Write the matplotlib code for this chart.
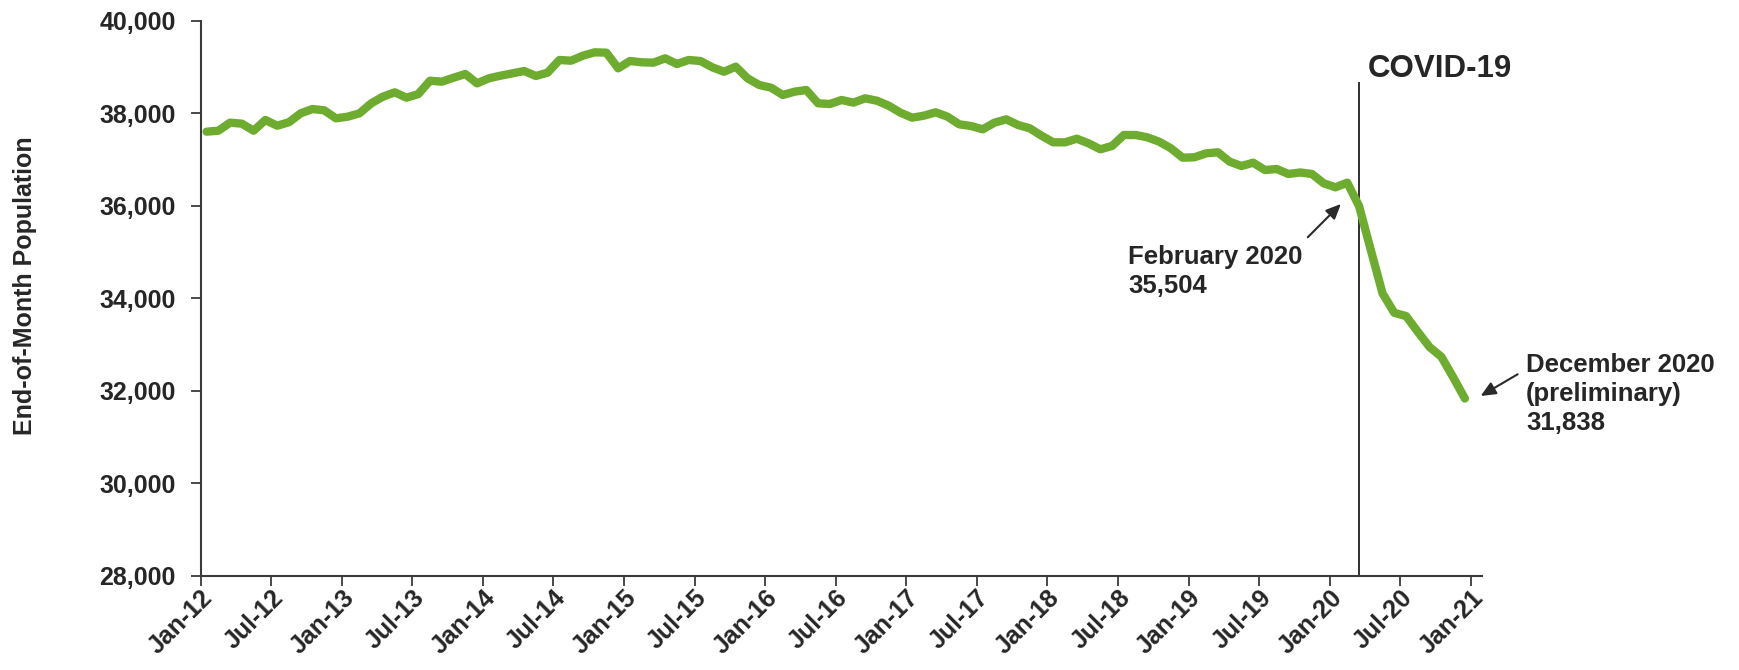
import numpy as np
import matplotlib
matplotlib.use("Agg")
import matplotlib.pyplot as plt

# ---- data ----
population = [
    37607, 37628, 37802, 37780, 37628, 37860, 37736, 37810, 38004, 38097, 38069, 37896,
    37931, 38004, 38220, 38364, 38458, 38342, 38420, 38709, 38688, 38774, 38854, 38652,
    38760, 38818, 38868, 38919, 38811, 38883, 39157, 39142, 39250, 39323, 39315, 38977,
    39135, 39107, 39099, 39193, 39070, 39157, 39135, 38999, 38904, 39012, 38761, 38616,
    38558, 38400, 38472, 38508, 38220, 38206, 38292, 38235, 38328, 38277, 38169, 38018,
    37910, 37953, 38026, 37932, 37766, 37730, 37658, 37802, 37874, 37752, 37680, 37520,
    37377, 37377, 37455, 37355, 37226, 37298, 37535, 37535, 37485, 37391, 37248, 37045,
    37053, 37139, 37161, 36958, 36865, 36936, 36778, 36800, 36692, 36725, 36692, 36490,
    36404, 36505, 36000, 35050, 34110, 33690, 33620, 33280, 32950, 32740, 32300, 31838,
]
tick_labels = ["Jan-12", "Jul-12", "Jan-13", "Jul-13", "Jan-14", "Jul-14", "Jan-15",
               "Jul-15", "Jan-16", "Jul-16", "Jan-17", "Jul-17", "Jan-18", "Jul-18",
               "Jan-19", "Jul-19", "Jan-20", "Jul-20", "Jan-21"]
y_ticks = [28000, 30000, 32000, 34000, 36000, 38000, 40000]
covid_month = 98          # March 2020 (months since Jan-12)
feb_label = "February 2020\n35,504"
dec_label = "December 2020\n(preliminary)\n31,838"
covid_label = "COVID-19"

# ---- styling ----
plt.rcParams['font.family'] = ['Liberation Sans', 'DejaVu Sans']
plt.rcParams['font.weight'] = 'bold'
TXT = '#262626'
AX = '#3a3a3a'
GREEN = '#6DAC2F'

fig = plt.figure(figsize=(17.39, 6.70), dpi=100)
W, H = 1739, 670
left_px, right_px, top_px, bot_px = 200.7, 1482.5, 21, 576
ax = fig.add_axes([left_px / W, 1 - bot_px / H, (right_px - left_px) / W, (bot_px - top_px) / H])

x = np.arange(len(population)) + 0.5
ax.plot(x, population, color=GREEN, lw=6.0, solid_joinstyle='round', solid_capstyle='round',
        clip_on=False, zorder=3)

ax.set_xlim(0, 109)
ax.set_ylim(28000, 40000)
ax.set_xticks(np.arange(len(tick_labels)) * 6)
ax.set_xticklabels(tick_labels, rotation=45, ha='right', va='top', rotation_mode='anchor',
                   fontsize=18, fontweight='bold', color=TXT)
ax.set_yticks(y_ticks)
ax.set_yticklabels([f"{v:,}" for v in y_ticks], fontsize=18, fontweight='bold', color=TXT)

for s in ['top', 'right']:
    ax.spines[s].set_visible(False)
for s in ['left', 'bottom']:
    ax.spines[s].set_color(AX)
    ax.spines[s].set_linewidth(1.5)
ax.tick_params(axis='both', direction='out', length=7, width=1.3, color=AX)
ax.tick_params(axis='x', pad=0)
ax.tick_params(axis='y', pad=11)

# covid line
cx = covid_month + 0.5
ax.plot([cx, cx], [28000, 38660], color='#303030', lw=1.4, zorder=2, clip_on=False)
ax.text(cx + 0.7, 38790, covid_label, fontsize=22.5, fontweight='bold', color=TXT,
        ha='left', va='baseline')

# annotations
ax.annotate("", xy=(96.96, 36044), xytext=(94.14, 35324),
            arrowprops=dict(arrowstyle='-|>,head_length=0.9,head_width=0.4', color='#2a2a2a',
                            lw=1.5, shrinkA=0, shrinkB=0))
ax.text(78.85, 34126, feb_label, fontsize=18.5, fontweight='bold', color=TXT,
        ha='left', va='baseline', linespacing=1.27)

ax.annotate("", xy=(108.84, 31892), xytext=(111.99, 32362), annotation_clip=False,
            arrowprops=dict(arrowstyle='-|>,head_length=0.9,head_width=0.4', color='#2a2a2a',
                            lw=1.5, shrinkA=0, shrinkB=0))
ax.text(112.7, 31157, dec_label, fontsize=18.5, fontweight='bold', color=TXT,
        ha='left', va='baseline', linespacing=1.27, clip_on=False)

fig.text(25 / W, 1 - 286 / H, "End-of-Month Population", rotation=90, ha='center', va='center',
         fontsize=18, fontweight='bold', color=TXT)

fig.savefig("out.png", dpi=100)
